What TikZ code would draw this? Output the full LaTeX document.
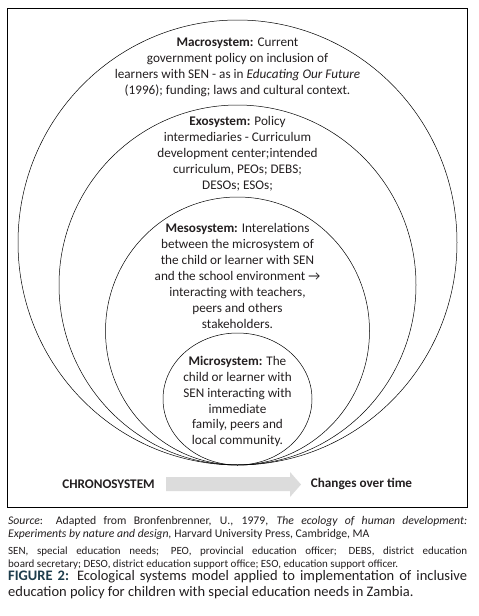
\documentclass[tikz,border=0pt]{standalone}
\usepackage{fontspec}
\setmainfont{Carlito}
\usetikzlibrary{shapes.geometric}
\definecolor{ink}{HTML}{231F20}
\definecolor{teal}{HTML}{1E3D4C}
\definecolor{arrowgray}{HTML}{DCDCDC}
\tikzset{
  sys/.style={draw=black, line width=0.5pt, ellipse, inner sep=0pt},
  systext/.style={align=center, text=ink, inner sep=0pt, font=\fontsize{13.2}{15.9}\selectfont},
  chrono/.style={text=ink, inner sep=0pt, font=\fontsize{13.2}{15}\selectfont\bfseries},
  captext/.style={text width=459pt, align=justify, anchor=north west, inner sep=0pt, text=ink}
}
\begin{document}
\begin{tikzpicture}[x=1pt,y=-1pt]
\useasboundingbox (0,0) rectangle (479,616);
\fill[white] (0,0) rectangle (479,616);
\node[draw=black, line width=1pt, minimum width=460pt, minimum height=499pt, inner sep=0pt] (frame) at (237,257.5) {};
% ellipses
\node[sys, minimum width=439pt, minimum height=445pt] (macro) at (237.5,242.5) {};
\node[sys, minimum width=357pt, minimum height=360pt] (exo) at (237.5,285) {};
\node[sys, minimum width=264pt, minimum height=268pt] (meso) at (237.5,331) {};
\node[sys, minimum width=149pt, minimum height=132pt] (micro) at (237.5,399) {};
% texts
\node[systext] (macrot) at (237.5,67) {\textbf{Macrosystem:} Current\\government policy on inclusion of\\learners with SEN - as in \textit{Educating Our Future}\\(1996); funding; laws and cultural context.};
\node[systext] (exot) at (237.5,153.5) {\textbf{Exosystem:} Policy\\intermediaries - Curriculum\\development center;intended\\curriculum, PEOs; DEBS;\\DESOs; ESOs;};
\node[systext] (mesot) at (237.5,276) {\textbf{Mesosystem:} Interelations\\between the microsystem of\\the child or learner with SEN\\and the school environment →\\interacting with teachers,\\peers and others\\stakeholders.};
\node[systext] (microt) at (237.5,401.5) {\textbf{Microsystem:} The\\child or learner with\\SEN interacting with\\immediate\\family, peers and\\local community.};
% chronosystem
\node[chrono] (chr) at (108.5,484) {CHRONOSYSTEM};
\node[chrono] (chg) at (361.5,484) {Changes over time};
\fill[arrowgray] (166,477) -- (290,477) -- (290,472) -- (301,484.5) -- (290,497) -- (290,491) -- (166,491) -- cycle;
% captions
\node[captext, font=\fontsize{11.7}{13}\selectfont] (src) at (8,516.5) {\hyphenpenalty=10000 \textit{Source}: Adapted from Bronfenbrenner, U., 1979, \textit{The ecology of human development:}\linebreak \textit{Experiments by nature and design,} Harvard University Press, Cambridge, MA};
\node[captext, font=\fontsize{11}{12.8}\selectfont] (abbr) at (8,547) {\hyphenpenalty=10000 SEN, special education needs; PEO, provincial education officer; DEBS, district education\linebreak board secretary; DESO, district education support office; ESO, education support officer.};
\node[captext, font=\fontsize{14.5}{15.3}\selectfont] (fig) at (8,570.5) {\hyphenpenalty=10000 \textcolor{teal}{\textbf{FIGURE 2:}} Ecological systems model applied to implementation of inclusive\linebreak education policy for children with special education needs in Zambia.};
\end{tikzpicture}
\end{document}
